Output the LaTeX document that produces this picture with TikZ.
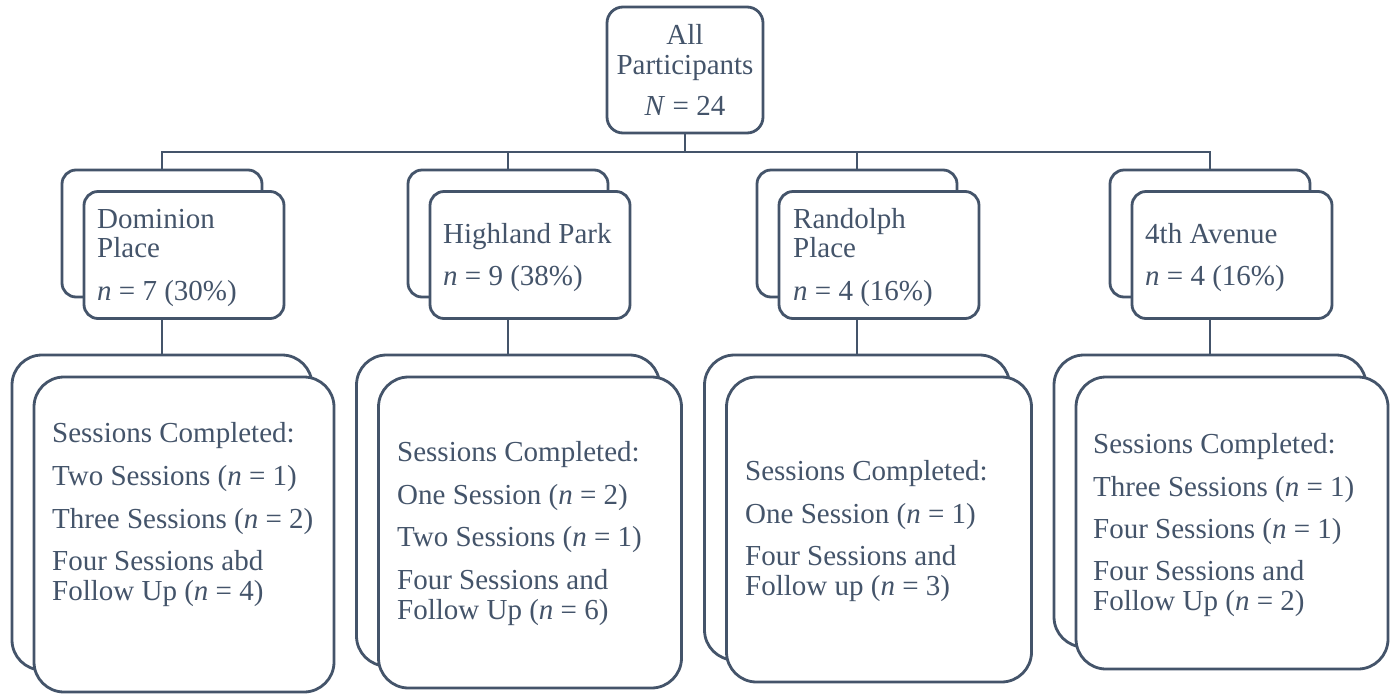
\documentclass[tikz,border=0pt]{standalone}
\usepackage{fontspec}
\setmainfont{Liberation Serif}
\definecolor{slate}{HTML}{44546A}
\begin{document}
\begin{tikzpicture}[x=1pt,y=-1pt,
  every node/.style={text=slate},
  box/.style={draw=slate, line width=2.8pt, fill=white, inner sep=0pt, rectangle},
  topbox/.style={box, rounded corners=16pt, minimum width=156pt, minimum height=126pt},
  midbox/.style={box, rounded corners=14pt, minimum width=200pt, minimum height=127pt},
  lowbox/.style={box, rounded corners=30pt},
  txt/.style={anchor=base west, inner sep=0pt, font=\fontsize{29}{30}\selectfont},
  ctxt/.style={anchor=base, inner sep=0pt, font=\fontsize{29}{30}\selectfont},
  link/.style={draw=slate, line width=2.8pt}
]
\useasboundingbox[fill=white] (0,0) rectangle (1394,694);

% top
\node[topbox] (top) at (685,70) {};
\node[ctxt] (t1) at (685,44) {All};
\node[ctxt] (t2) at (685,74) {Participants};
\node[ctxt] (t3) at (685,115) {\textit{N} = 24};

% level 2
\node[midbox] (d2b) at (162,233.5) {};
\node[midbox] (d2f) at (184,255) {};
\node[midbox] (h2b) at (508,233.5) {};
\node[midbox] (h2f) at (530,255) {};
\node[midbox] (r2b) at (857,233.5) {};
\node[midbox] (r2f) at (879,255) {};
\node[midbox] (f2b) at (1210,233.5) {};
\node[midbox] (f2f) at (1232,255) {};

\node[txt] (d2t1) at (97,228) {Dominion};
\node[txt] (d2t2) at (97,257.5) {Place};
\node[txt] (d2t3) at (97,300) {\textit{n} = 7 (30\%)};
\node[txt] (h2t1) at (443,243) {Highland Park};
\node[txt] (h2t2) at (443,285) {\textit{n} = 9 (38\%)};
\node[txt] (r2t1) at (793,228) {Randolph};
\node[txt] (r2t2) at (793,257.5) {Place};
\node[txt] (r2t3) at (793,300) {\textit{n} = 4 (16\%)};
\node[txt] (f2t1) at (1145,243) {4th Avenue};
\node[txt] (f2t2) at (1145,285) {\textit{n} = 4 (16\%)};

% level 3
\node[lowbox, minimum width=300pt, minimum height=315pt] (d3b) at (162,512.5) {};
\node[lowbox, minimum width=300pt, minimum height=315pt] (d3f) at (184,534.5) {};
\node[lowbox, minimum width=303pt, minimum height=311pt] (h3b) at (508,510.5) {};
\node[lowbox, minimum width=303pt, minimum height=311pt] (h3f) at (530,532.5) {};
\node[lowbox, minimum width=305pt, minimum height=305pt] (r3b) at (857,507.5) {};
\node[lowbox, minimum width=305pt, minimum height=305pt] (r3f) at (879,529.5) {};
\node[lowbox, minimum width=312pt, minimum height=292pt] (f3b) at (1210,501) {};
\node[lowbox, minimum width=312pt, minimum height=292pt] (f3f) at (1232,523) {};

\node[txt] (d3t1) at (52,442) {Sessions Completed:};
\node[txt] (d3t2) at (52,485.5) {Two Sessions (\textit{n} = 1)};
\node[txt] (d3t3) at (52,528) {Three Sessions (\textit{n} = 2)};
\node[txt] (d3t4) at (52,570.5) {Four Sessions abd};
\node[txt] (d3t5) at (52,600.5) {Follow Up (\textit{n} = 4)};

\node[txt] (h3t1) at (397,461) {Sessions Completed:};
\node[txt] (h3t2) at (397,504) {One Session (\textit{n} = 2)};
\node[txt] (h3t3) at (397,546) {Two Sessions (\textit{n} = 1)};
\node[txt] (h3t4) at (397,589) {Four Sessions and};
\node[txt] (h3t5) at (397,619) {Follow Up (\textit{n} = 6)};

\node[txt] (r3t1) at (745,480) {Sessions Completed:};
\node[txt] (r3t2) at (745,523) {One Session (\textit{n} = 1)};
\node[txt] (r3t3) at (745,565) {Four Sessions and};
\node[txt] (r3t4) at (745,595.5) {Follow up (\textit{n} = 3)};

\node[txt] (f3t1) at (1093,453) {Sessions Completed:};
\node[txt] (f3t2) at (1093,496) {Three Sessions (\textit{n} = 1)};
\node[txt] (f3t3) at (1093,538) {Four Sessions (\textit{n} = 1)};
\node[txt] (f3t4) at (1093,580) {Four Sessions and};
\node[txt] (f3t5) at (1093,610) {Follow Up (\textit{n} = 2)};

% connectors
\coordinate (bus) at (685,152);
\draw[link] (top.south) -- (bus);
\draw[link] (d2b.north) |- (bus);
\draw[link] (h2b.north) |- (bus);
\draw[link] (r2b.north) |- (bus);
\draw[link] (f2b.north) |- (bus);
\draw[link] (d2b.south |- d2f.south) -- (d3b.north);
\draw[link] (h2b.south |- h2f.south) -- (h3b.north);
\draw[link] (r2b.south |- r2f.south) -- (r3b.north);
\draw[link] (f2b.south |- f2f.south) -- (f3b.north);
\end{tikzpicture}
\end{document}
